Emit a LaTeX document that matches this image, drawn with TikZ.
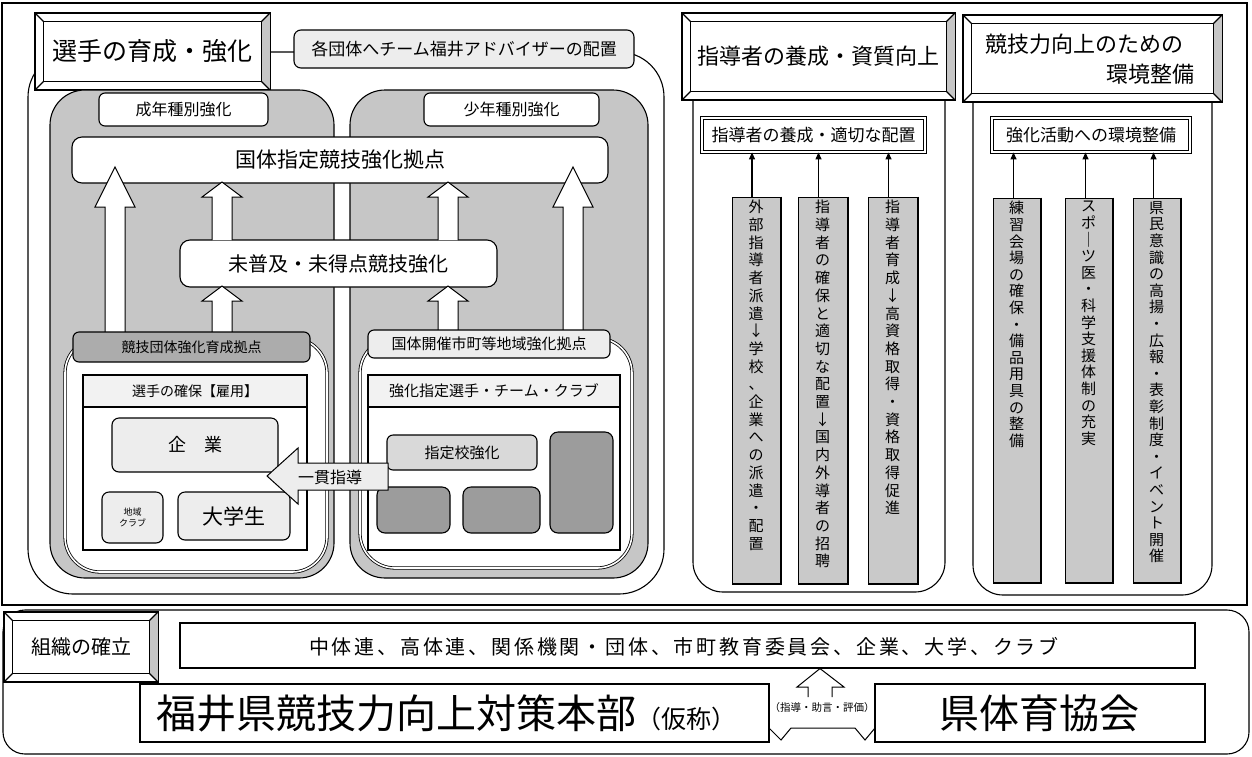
\documentclass[tikz,border=0pt]{standalone}
\usepackage{fontspec}
\setmainfont{Noto Sans CJK JP}
\usetikzlibrary{calc,fit,arrows.meta}
\makeatletter
\newcommand{\vstk}[1]{\vstk@a#1\@nil}
\def\vstk@a#1{\ifx#1\@nil\else#1\\\expandafter\vstk@a\fi}
\makeatother
\newcommand{\bevelbox}[1]{%
  \fill[gray!45] (#1.north east) -- ($(#1.north east)+(-9,9)$) -- ($(#1.south east)+(-9,-9)$) -- (#1.south east) -- cycle;
  \draw ($(#1.north west)+(9,9)$) rectangle ($(#1.south east)+(-9,-9)$);
  \draw (#1.north west) -- ++(9,9) (#1.north east) -- ++(-9,9) (#1.south west) -- ++(9,-9) (#1.south east) -- ++(-9,-9);
  \draw (#1.north west) rectangle (#1.south east);
}
\newcommand{\upblk}[4]{\draw[barr] (#1-10,#2) -- (#1-10,#3+#4) -- (#1-20,#3+#4) -- (#1,#3) -- (#1+20,#3+#4) -- (#1+10,#3+#4) -- (#1+10,#2);}
\newcommand{\fs}[2]{\fontsize{#1}{#2}\selectfont}
\newcommand{\vfm}{\fontsize{15}{17.7}\selectfont\lineskiplimit=-30pt\relax\lineskip=0pt\relax}
\newcommand{\vfr}{\fontsize{15}{16.6}\selectfont\lineskiplimit=-30pt\relax\lineskip=0pt\relax}
\begin{document}
\begin{tikzpicture}[x=1pt,y=-1pt,line width=1.1pt,
  gpanel/.style={draw, fill=gray!45, rounded corners=35, inner sep=0pt},
  wbox/.style={draw, fill=white, rounded corners=10, inner sep=0pt},
  lbox/.style={draw, fill=gray!14, rounded corners=7, inner sep=0pt},
  dbox/.style={draw, fill=gray!78, rounded corners=8, inner sep=0pt},
  sbox/.style={draw, fill=white, inner sep=0pt},
  strip/.style={draw, line width=0.6pt, fill=gray!42, inner sep=0pt},
  dbl/.style={draw, double, double distance=1.6pt, line width=0.8pt, fill=white, inner sep=0pt},
  barr/.style={draw, fill=white, line width=1pt},
  tarr/.style={-{Triangle[length=7pt,width=6pt]}, line width=1.2pt},
  txt/.style={inner sep=0pt, anchor=center},
  vtm/.style={anchor=north, align=center, inner sep=0pt, font=\vfm},
  vtr/.style={anchor=north, align=center, inner sep=0pt, font=\vfr},
]
\useasboundingbox (0,0) rectangle (1252,756);
\fill[white] (0,0) rectangle (1252,756);

% outer frame
\draw (2,3) rectangle (1247,605);

% big outline of left section
\draw[rounded corners=45] (28,52) rectangle (664,594);

% left title
\node[draw, fill=white, fit={(35,13) (270,90)}, inner sep=0pt] (tA) {};
\bevelbox{tA}
\node[txt, font=\fs{25}{30}] (tAt) at (tA) {選手の育成・強化};

% adviser
\node[lbox, fit={(294,30) (634,68)}] (adv) {};
\node[txt, font=\fs{17}{20}] (advt) at (adv) {各団体へチーム福井アドバイザーの配置};

% gray panels
\node[gpanel, fit={(50,90) (334,578)}] (pL) {};
\node[gpanel, fit={(350,90) (648,578)}] (pR) {};
\node[wbox, rounded corners=6, fit={(99,93) (268,126)}] (tabL) {};
\node[txt, font=\fs{16}{19}] at (tabL) {成年種別強化};
\node[wbox, rounded corners=6, fit={(424,93) (599,126)}] (tabR) {};
\node[txt, font=\fs{16}{19}] at (tabR) {少年種別強化};

\node[wbox, fit={(72,137) (608,183)}] (kokutai) {};
\node[txt, font=\fs{21}{25}] at (kokutai) {国体指定競技強化拠点};
\node[wbox, fit={(180,240) (497,287)}] (mifukyu) {};
\node[txt, font=\fs{20}{24}] at (mifukyu) {未普及・未得点競技強化};

% block arrows
\upblk{115}{345}{167}{40}
\upblk{573}{345}{167}{40}
\upblk{222}{240}{182}{15}
\upblk{448}{240}{182}{15}
\upblk{222}{345}{286}{15}
\upblk{448}{345}{286}{15}

% lower left
\node[dbl, rounded corners=35, fit={(65,338) (327,572)}] (lowL) {};
\node[draw, fill=gray!65, rounded corners=6, inner sep=0pt, fit={(73,332) (310,362)}] (hdrL) {};
\node[txt, font=\fs{14}{17}] at (hdrL) {競技団体強化育成拠点};
\node[sbox, fit={(83,375) (307,550)}] (kakuho) {};
\node[sbox, fill=gray!10, fit={(83,375) (307,407)}] (kakuhoH) {};
\node[txt, font=\fs{14}{17}] at (kakuhoH) {選手の確保【雇用】};
\node[lbox, fit={(112,418) (278,472)}] (kigyo) {};
\node[txt, font=\fs{18}{21}] at (kigyo) {企\quad 業};
\node[lbox, fit={(102,492) (163,543)}] (club) {};
\node[txt, font=\fs{9}{11}, align=center] at (club) {地域\\クラブ};
\node[lbox, fit={(178,492) (290,540)}] (daigaku) {};
\node[txt, font=\fs{21}{25}] at (daigaku) {大学生};

% lower right
\node[dbl, rounded corners=35, fit={(360,338) (632,568)}] (lowR) {};
\node[lbox, rounded corners=6, fit={(368,330) (610,358)}] (hdrR) {};
\node[txt, font=\fs{15}{18}] at (hdrR) {国体開催市町等地域強化拠点};
\node[sbox, fit={(368,375) (620,550)}] (kyoka) {};
\node[sbox, fill=gray!10, fit={(368,375) (620,407)}] (kyokaH) {};
\node[txt, font=\fs{15}{18}] at (kyokaH) {強化指定選手・チーム・クラブ};
\node[lbox, fill=gray!30, rounded corners=6, fit={(387,435) (537,470)}] (shiteiko) {};
\node[txt, font=\fs{15}{18}] at (shiteiko) {指定校強化};
\node[dbox, fit={(377,487) (450,533)}] (d1) {};
\node[dbox, fit={(463,487) (540,533)}] (d2) {};
\node[dbox, fit={(550,432) (613,533)}] (d3) {};

% ikkan arrow
\draw[fill=gray!14, line width=1pt] (388,463) -- (298,463) -- (298,448) -- (267,476) -- (298,504) -- (298,490) -- (388,490) -- cycle;
\node[txt, font=\fs{16}{19}] (ikkan) at (330,477) {一貫指導};

% middle column
\node[draw, fill=white, fit={(682,13) (955,100)}, inner sep=0pt] (tB) {};
\bevelbox{tB}
\node[txt, font=\fs{22}{26}] (tBt) at (tB) {指導者の養成・資質向上};
\draw[rounded corners=30] (693,100) -- (693,592) -- (945,592) -- (945,100);
\node[dbl, fit={(702,118) (925,152)}] (subB) {};
\node[txt, font=\fs{17}{20}] at (subB) {指導者の養成・適切な配置};
\node[strip, fit={(732,197) (780,583)}] (m1) {};
\node[strip, fit={(798,197) (847,583)}] (m2) {};
\node[strip, fit={(868,197) (917,583)}] (m3) {};
\foreach \s in {m1,m2,m3}{
  \draw[line width=2pt] ($(\s.north east)+(1,0)$) -- ($(\s.south east)+(1,1)$) -- ($(\s.south west)+(0,1)$);
  \draw[tarr] ($(\s.north)+(-4,0)$) -- ($(\s.north |- subB.south)+(-4,0)$);
}
\node[vtm] (m1t) at ($(m1.north)+(0,3)$) {\vstk{外部指導者派遣↓学校、企業への派遣・配置}};
\node[vtm] (m2t) at ($(m2.north)+(0,3)$) {\vstk{指導者の確保と適切な配置↓国内外導者の招聘}};
\node[vtm] (m3t) at ($(m3.north)+(0,3)$) {\vstk{指導者育成↓高資格取得・資格取得促進}};

% right column
\node[draw, fill=white, fit={(963,15) (1222,102)}, inner sep=0pt] (tC) {};
\bevelbox{tC}
\node[txt, font=\fs{22}{26}, anchor=west] (tCt1) at (985,44) {競技力向上のための};
\node[txt, font=\fs{22}{26}, anchor=east] (tCt2) at (1195,74) {環境整備};
\draw[rounded corners=30] (973,102) -- (973,595) -- (1212,595) -- (1212,102);
\node[dbl, fit={(992,118) (1190,152)}] (subC) {};
\node[txt, font=\fs{17}{20}] at (subC) {強化活動への環境整備};
\node[strip, fit={(993,198) (1040,582)}] (r1) {};
\node[strip, fit={(1065,198) (1112,582)}] (r2) {};
\node[strip, fit={(1133,198) (1180,582)}] (r3) {};
\foreach \s in {r1,r2,r3}{
  \draw[line width=2pt] ($(\s.north east)+(1,0)$) -- ($(\s.south east)+(1,1)$) -- ($(\s.south west)+(0,1)$);
  \draw[tarr] ($(\s.north)+(-3,0)$) -- ($(\s.north |- subC.south)+(-3,0)$);
}
\node[vtr] (r1t) at ($(r1.north)+(0,3)$) {\vstk{練習会場の確保・備品用具の整備}};
\node[vtr] (r2t) at ($(r2.north)+(0,3)$) {\vstk{スポ｜ツ医・科学支援体制の充実}};
\node[vtr] (r3t) at ($(r3.north)+(0,3)$) {\vstk{県民意識の高揚・広報・表彰制度・イベント開催}};

% bottom section
\draw[rounded corners=22] (3,610) rectangle (1249,754);
\node[draw, fill=white, fit={(4,612) (158,682)}, inner sep=0pt] (tD) {};
\bevelbox{tD}
\node[txt, font=\fs{20}{24}] (tDt) at (tD) {組織の確立};
\node[sbox, fit={(180,623) (1195,668)}] (mem) {};
\node[txt, font=\fs{20}{24}\addfontfeature{LetterSpace=14}] (memt) at (684,647) {中体連、高体連、関係機関・団体、市町教育委員会、企業、大学、クラブ};
\node[sbox, fit={(140,684) (769,742)}] (hq) {};
\node[txt, font=\fs{40}{46}, anchor=west] (hqt) at (156,713) {福井県競技力向上対策本部{\fs{25}{30}（仮称）}};
\node[sbox, fit={(875,684) (1205,742)}] (ken) {};
\node[txt, font=\fs{40}{46}] (kent) at (1039,713) {県体育協会};
\fill[white] (770,729) rectangle (874,741);
\draw[line width=1pt] (769,728) -- (781,740) -- (791,728) -- (855,728) -- (865,740) -- (875,728);
\node[txt, font=\fs{10.5}{12}] (shido) at (822,707) {（指導・助言・評価）};
\draw[line width=1pt] (808,697) -- (808,687) -- (797,687) -- (mem.south -| 820,0) -- (844,687) -- (832,687) -- (832,697);
\end{tikzpicture}
\end{document}
